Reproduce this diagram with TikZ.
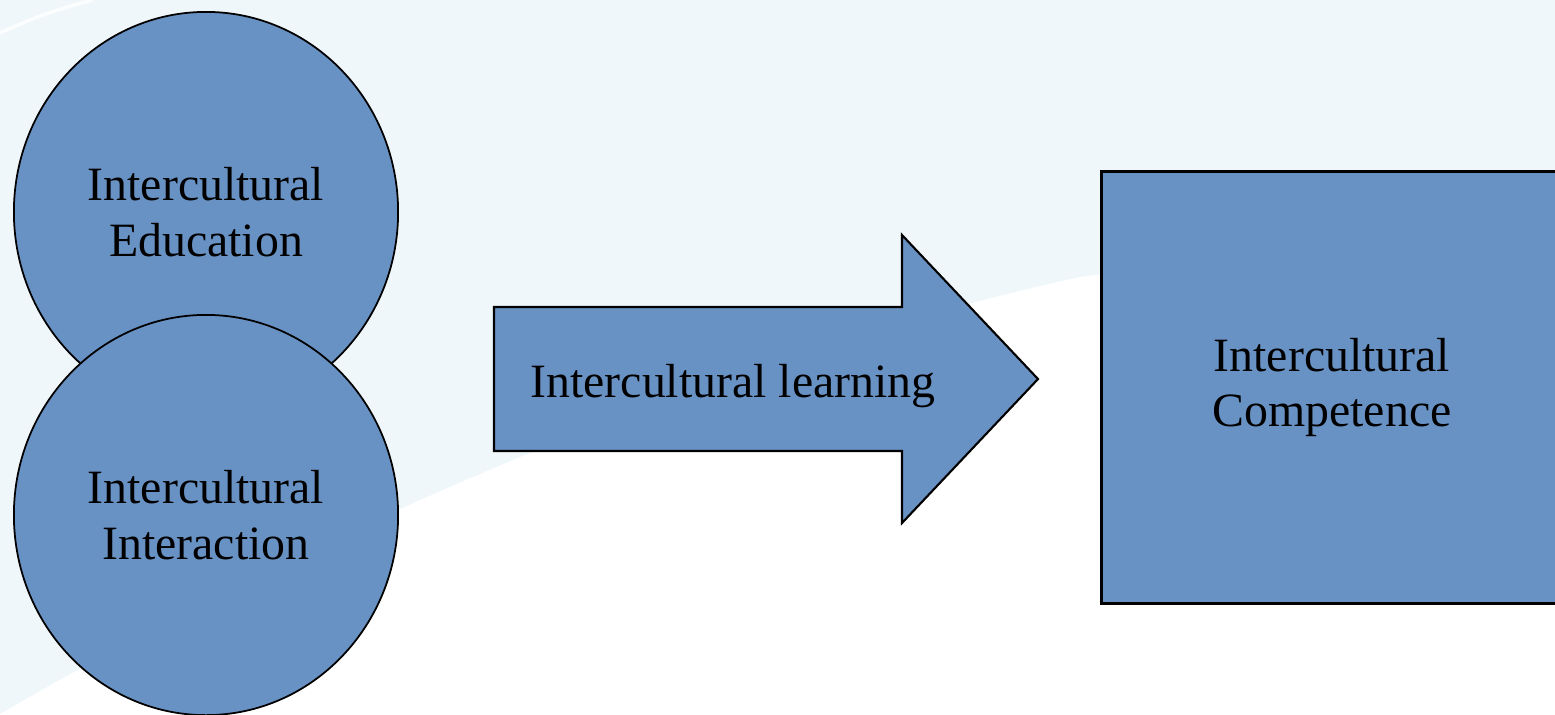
\documentclass[tikz,border=0pt]{standalone}
\usepackage{fontspec}
\setmainfont{Liberation Serif}
\usepackage{tikz}
\usetikzlibrary{shapes.geometric}
\definecolor{boxblue}{RGB}{105, 146, 196}
\definecolor{skyback}{RGB}{239, 247, 250}

\begin{document}
\begin{tikzpicture}[x=0.01cm, y=-0.01cm,
    every node/.style={font=\fontsize{13.6}{15.8}\selectfont, align=center},
    bluefill/.style={fill=boxblue, draw=black, line width=0.5pt},
    bubble/.style={bluefill, ellipse, inner sep=0pt, minimum width=3.84cm, minimum height=4cm}]
  % background
  \useasboundingbox (0, 0) rectangle (1555, 714);
  \fill[color=skyback] (0, 0) rectangle (1555, 714);
  \fill[color=white] (0, 714) .. controls (300, 540) and (700, 360) .. (1080, 277)
    -- (1555, 215) -- (1555, 714) -- cycle;
  \draw[color=white, line width=1pt, opacity=0.8] (0, 33) to[bend left=5] (93, 0);
  % two circles
  \node[bubble] (edu) at (206, 212) {Intercultural\\Education};
  \node[bubble] (inter) at (206, 515) {Intercultural\\Interaction};
  % arrow
  \draw[bluefill, line width=0.6pt] (494, 307) to (902, 307) to (902, 235) to (1038, 379)
    to (902, 523) to (902, 451) to (494, 451) -- cycle;
  \node (learn) at (733, 386) {Intercultural learning};
  % result box
  \node[bluefill, line width=0.8pt, minimum width=4.6cm, minimum height=4.31cm]
    (comp) at (1332, 387.5) {Intercultural\\Competence};
\end{tikzpicture}
\end{document}
